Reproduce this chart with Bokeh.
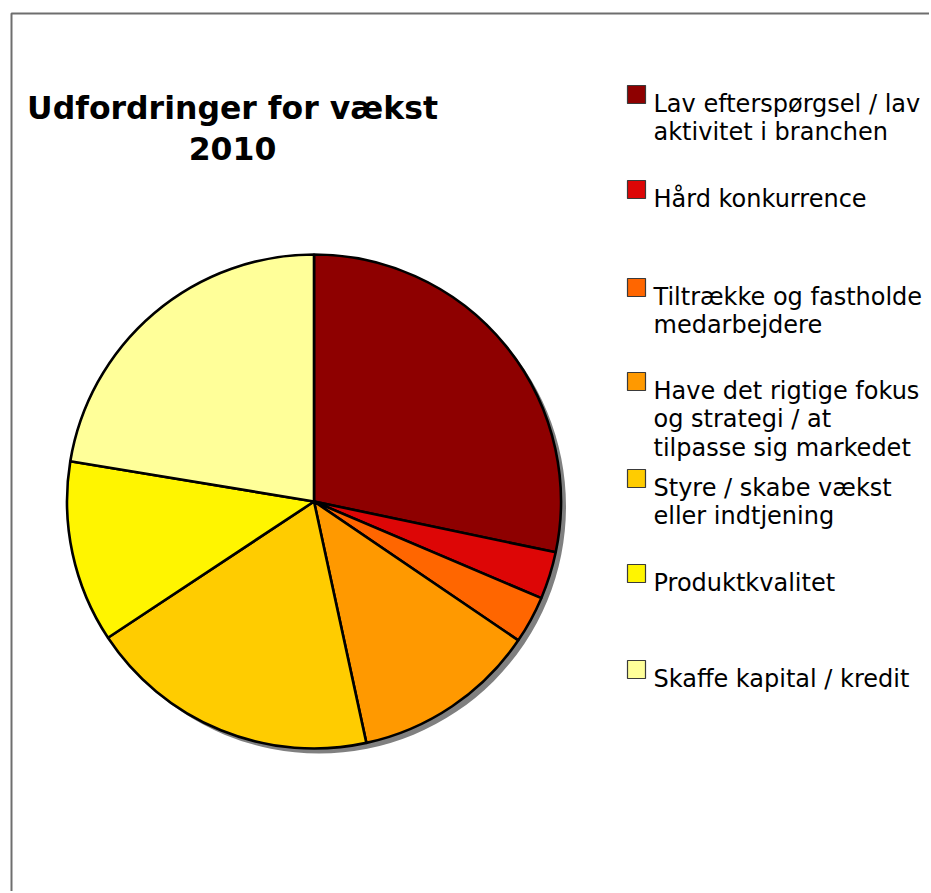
import numpy as np
from bokeh.plotting import figure
from bokeh.models import Range1d
from bokeh.core.properties import value
from bokeh.embed import file_html
from bokeh.resources import INLINE

# ---- data ----
categories = [
    "Lav efterspørgsel / lav\naktivitet i branchen",
    "Hård konkurrence",
    "Tiltrække og fastholde\nmedarbejdere",
    "Have det rigtige fokus\nog strategi / at\ntilpasse sig markedet",
    "Styre / skabe vækst\neller indtjening",
    "Produktkvalitet",
    "Skaffe kapital / kredit",
]
shares = [28.3, 3.1, 3.1, 12.1, 19.1, 11.9, 22.4]
colors = ["#8E0000", "#DD0606", "#FF6600", "#FF9900", "#FFCC00", "#FFF500", "#FFFF99"]
title_lines = ["Udfordringer for vækst", "2010"]

W, H = 929, 891
FONT = "DejaVu Sans"

def Y(sy):
    return H - sy

def X(sx):
    return sx

p = figure(width=W, height=H, x_range=Range1d(0, W), y_range=Range1d(0, H),
           output_backend="svg", toolbar_location=None, min_border=0)
p.axis.visible = False
p.grid.visible = False
p.outline_line_color = None
p.background_fill_color = "white"

# chart border (only top and left visible in the crop)
p.line([X(11), X(11), X(960)], [Y(920), Y(13), Y(13)], line_color="#6E6E6E", line_width=2)

# pie
cx, cy, r = X(313.5), Y(501), 247
vals = np.array(shares, dtype=float)
frac = vals / vals.sum()
cum = np.concatenate([[0.0], np.cumsum(frac)])
start = np.pi / 2 - 2 * np.pi * cum[:-1]
end = np.pi / 2 - 2 * np.pi * cum[1:]

# shadow
p.circle(x=[cx + 5], y=[cy - 5], radius=r, fill_color="#808080", line_color=None)

p.wedge(x=cx, y=cy, radius=r, start_angle=start, end_angle=end, direction="clock",
        fill_color=colors, line_color="black", line_width=2.6)

# title
p.text(x=[X(232)] * 2, y=[Y(107), Y(148)], text=title_lines,
       text_font=value(FONT), text_font_style="bold", text_font_size="31.5px",
       text_align="center", text_baseline="alphabetic", text_color="black")

# legend
first_baselines = [103, 198, 296, 390, 487, 582, 678]
line_gap = 28.5
lx, ly, lc = [], [], []
for cat, base, col in zip(categories, first_baselines, colors):
    for i, ln in enumerate(cat.split("\n")):
        lx.append(X(653))
        ly.append(Y(base + i * line_gap))
        lc.append(ln)
sq_x = [X(636)] * len(categories)
sq_y = [Y(b - 9) for b in first_baselines]
p.rect(x=sq_x, y=sq_y, width=18, height=18, fill_color=colors, line_color="#3A3A3A", line_width=1.2)
p.text(x=lx, y=ly, text=lc, text_font=value(FONT), text_font_size="24px",
       text_align="left", text_baseline="alphabetic", text_color="black")

open("out.html", "w").write(file_html(p, INLINE))
